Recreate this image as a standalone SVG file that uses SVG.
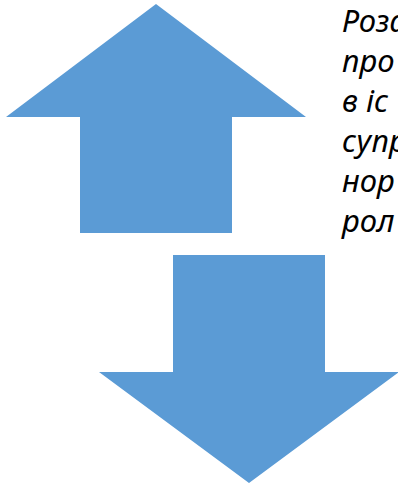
<svg xmlns="http://www.w3.org/2000/svg" width="398" height="489" viewBox="0 0 398 489">
  <style>
    .arrow { fill: #5B9BD5; }
    .caption { font-family: "Noto Sans", "Open Sans", sans-serif; font-style: italic; font-size: 31px; fill: #000000; }
  </style>
  <rect width="398" height="489" fill="#FFFFFF"/>
  <g id="arrow-up">
    <polygon class="arrow" points="156,4 306,117 232,117 232,233 80,233 80,117 6,117"/>
  </g>
  <g id="arrow-down">
    <polygon class="arrow" points="173,255 325,255 325,372 399,372 249,483 99,372 173,372"/>
  </g>
  <g id="caption">
    <text class="caption" x="342" y="32">Роза</text>
    <text class="caption" x="342" y="72">про</text>
    <text class="caption" x="342" y="112">в іс</text>
    <text class="caption" x="342" y="152">супр</text>
    <text class="caption" x="342" y="192">нор</text>
    <text class="caption" x="342" y="232">рол</text>
  </g>
</svg>
